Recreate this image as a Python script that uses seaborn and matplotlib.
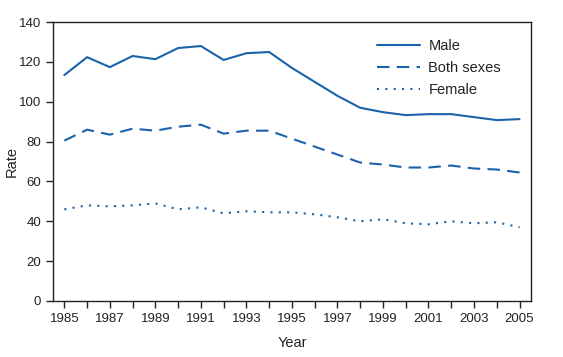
import numpy as np
import pandas as pd
import matplotlib
matplotlib.use("Agg")
import matplotlib.pyplot as plt
import seaborn as sns

years = list(range(1985, 2006))
male = [113.4, 122.4, 117.4, 123.0, 121.4, 127.0, 128.0, 121.0, 124.4, 125.0,
        117.0, 110.0, 103.0, 97.0, 94.8, 93.3, 93.8, 93.8, 92.3, 90.8, 91.3]
both = [80.5, 86.0, 83.5, 86.5, 85.5, 87.5, 88.5, 84.0, 85.5, 85.5,
        81.5, 77.5, 73.5, 69.5, 68.5, 67.0, 67.0, 68.0, 66.5, 66.0, 64.5]
female = [46.0, 48.0, 47.5, 48.0, 49.0, 46.0, 47.0, 44.0, 45.0, 44.5,
          44.5, 43.5, 42.0, 40.0, 41.0, 39.0, 38.5, 40.0, 39.0, 39.5, 37.0]

df = pd.DataFrame({"Year": years * 3,
                   "Rate": male + both + female,
                   "Group": ["Male"] * 21 + ["Both sexes"] * 21 + ["Female"] * 21})

sns.set_style("ticks")
plt.rcParams['font.family'] = ['Liberation Sans', 'DejaVu Sans']

color = "#1a62aa"
fig = plt.figure(figsize=(5.63, 3.57), dpi=100)
ax = fig.add_axes([0.094, 0.157, 0.849, 0.781])

styles = {"Male": "-", "Both sexes": (0, (6, 3.5)), "Female": (0, (1, 3))}
for g in ["Male", "Both sexes", "Female"]:
    sub = df[df["Group"] == g]
    sns.lineplot(data=sub, x="Year", y="Rate", ax=ax, color=color,
                 linewidth=1.5, linestyle=styles[g], label=g)

ax.set_xlim(1984.5, 2005.5)
ax.set_ylim(0, 140)
ax.set_yticks(range(0, 141, 20))
ax.set_xticks(range(1985, 2006, 2))
ax.set_xticks(range(1985, 2006), minor=True)
ax.tick_params(axis="both", which="both", direction="out", length=5,
               width=1, color="#222222", labelsize=9.5, labelcolor="#222222")
ax.set_xlabel("Year", fontsize=10.5, color="#222222", labelpad=8)
ax.set_ylabel("Rate", fontsize=10.5, color="#222222", labelpad=0)
for s in ax.spines.values():
    s.set_visible(True)
    s.set_color("#222222")
    s.set_linewidth(1)

leg = ax.legend(loc="upper right", frameon=False, fontsize=10.5,
                handlelength=2.9, handletextpad=0.6,
                bbox_to_anchor=(0.965, 0.985), labelspacing=0.55)
for t in leg.get_texts():
    t.set_color("#222222")

fig.savefig("out.png", dpi=100)
